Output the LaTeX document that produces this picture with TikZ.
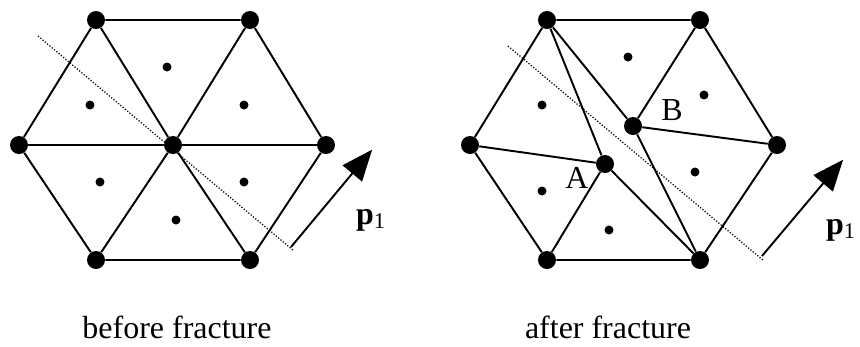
\documentclass[tikz,border=0pt]{standalone}
\usepackage{fontspec}
\setmainfont{Liberation Serif}
\usetikzlibrary{arrows.meta}
\tikzset{
  vertex/.style={circle,fill=black,inner sep=0pt,minimum size=0.36cm},
  centroid/.style={circle,fill=black,inner sep=0pt,minimum size=0.18cm},
  edge/.style={line width=1.1pt},
  crack/.style={densely dotted,line width=0.7pt},
  direction/.style={line width=1.1pt,-{Triangle[length=0.62cm,width=0.5cm]},shorten >=-1pt},
  caption/.style={font=\fontsize{18.2}{20}\selectfont,inner sep=0pt}
}
\begin{document}
\begin{tikzpicture}[x=0.02cm,y=-0.02cm]
\useasboundingbox (0,0) rectangle (860,346);
% before fracture
\node[vertex] (a1) at (96,20) {};
\node[vertex] (a2) at (250,20) {};
\node[vertex] (a3) at (19,145) {};
\node[vertex] (a4) at (173,145) {};
\node[vertex] (a5) at (326,145) {};
\node[vertex] (a6) at (96,260) {};
\node[vertex] (a7) at (250,260) {};
\draw[edge] (a1) -- (a2) -- (a5) -- (a7) -- (a6) -- (a3) -- (a1);
\foreach \i in {1,2,3,5,6,7} \draw[edge] (a4) -- (a\i);
% Schwerpunkte der Dreiecke
\node[centroid] (c1) at (167,67) {};
\node[centroid] (c2) at (90,105) {};
\node[centroid] (c3) at (244,105) {};
\node[centroid] (c4) at (100,182) {};
\node[centroid] (c5) at (244,182) {};
\node[centroid] (c6) at (176,220) {};
% crack plane and direction
\coordinate (s1) at (38,36);
\coordinate (s2) at (294,251);
\draw[crack] (s1) -- (s2);
\coordinate (t1) at (291,247);
\coordinate (t2) at (371,151);
\draw[direction] (t1) -- (t2);
\node[caption] (p1) at (371,220) {\textbf{p}\textsubscript{1}};
\node[caption] (before) at (177,327) {before fracture};
% after fracture
\node[vertex] (b1) at (547,20) {};
\node[vertex] (b2) at (700,20) {};
\node[vertex] (b3) at (470,145) {};
\node[vertex] (b5) at (777,145) {};
\node[vertex] (b6) at (547,260) {};
\node[vertex] (b7) at (700,260) {};
\node[vertex] (nA) at (605,164) {};
\node[vertex] (nB) at (633,126) {};
\draw[edge] (b1) -- (b2) -- (b5) -- (b7) -- (b6) -- (b3) -- (b1);
\draw[edge] (b3) -- (nA) -- (b1) -- (nB) -- (b5);
\draw[edge] (b6) -- (nA) -- (b7) -- (nB) -- (b2);
\node[caption] (lA) at (577,178) {A};
\node[caption] (lB) at (672,110) {B};
\node[centroid] (d1) at (628,57) {};
\node[centroid] (d2) at (704,95) {};
\node[centroid] (d3) at (542,105) {};
\node[centroid] (d4) at (695,172) {};
\node[centroid] (d5) at (542,191) {};
\node[centroid] (d6) at (609,230) {};
\coordinate (s3) at (508,46);
\coordinate (s4) at (764,261);
\draw[crack] (s3) -- (s4);
\coordinate (t3) at (762,256);
\coordinate (t4) at (842,161);
\draw[direction] (t3) -- (t4);
\node[caption] (p2) at (841,230) {\textbf{p}\textsubscript{1}};
\node[caption] (after) at (608,327) {after fracture};
\end{tikzpicture}
\end{document}
